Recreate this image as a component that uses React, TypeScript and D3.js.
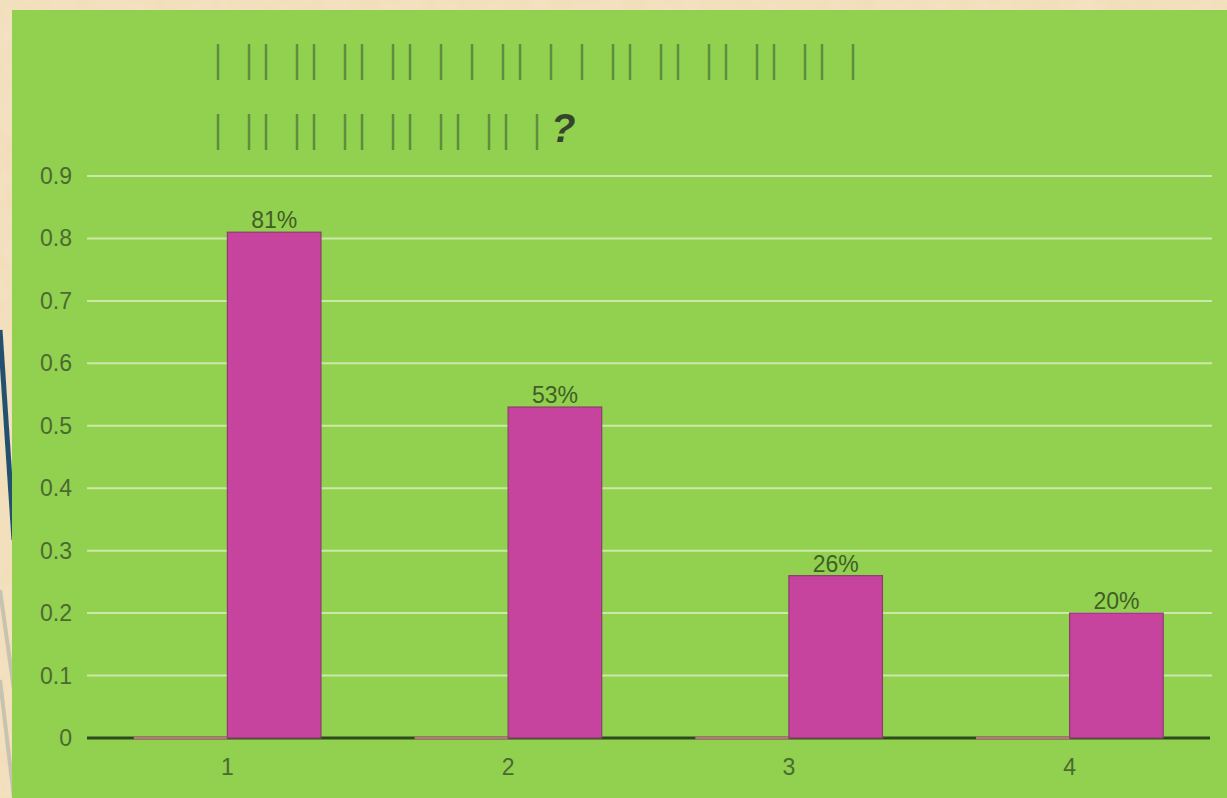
import React from "react";
import * as d3 from "d3";

const categories = ["1", "2", "3", "4"];
const seriesNames = ["Series1", "Series2"];
const series1Values = [0, 0, 0, 0];
const series2Values = [0.81, 0.53, 0.26, 0.2];
const yTicks = [0, 0.1, 0.2, 0.3, 0.4, 0.5, 0.6, 0.7, 0.8, 0.9];
const titleLine1 = "| || || || || | | || | | || || || || || |";
const titleLine2 = "| || || || || || || |?";

const W = 1227;
const H = 798;
const FONT = "'Liberation Sans', Arial, sans-serif";

function TitleLine({ text, x0, y }: { text: string; x0: number; y: number }) {
  let x = x0;
  const items: React.ReactNode[] = [];
  text.split("").forEach((ch, i) => {
    if (ch === "|") {
      items.push(
        <text key={i} x={x} y={y} fontSize={38} fontFamily={FONT} fill="#5a8e3c" textAnchor="middle" transform={`translate(${x},0) scale(0.75,1) translate(${-x},0)`}>
          |
        </text>
      );
      x += 17;
    } else if (ch === " ") {
      x += 14;
    } else {
      items.push(
        <text key={i} x={x - 3} y={y} fontSize={40} fontFamily={FONT} fill="#34452b" fontStyle="italic" fontWeight={600}>
          {ch}
        </text>
      );
      x += 20;
    }
  });
  return <g>{items}</g>;
}

export default function App() {
  const left = 87;
  const right = 1210;
  const top = 176;
  const bottom = 738;

  const x0 = d3.scaleBand<string>().domain(categories).range([left, right]).padding(0);
  const bw = x0.bandwidth();
  const x1 = d3.scaleBand<string>().domain(seriesNames).range([bw / 6, (bw * 5) / 6]).padding(0);
  const y = d3.scaleLinear().domain([0, 0.9]).range([bottom, top]);
  const fmt = d3.format(".0%");

  const bar = (bx: number, v: number, stroke: string, sw: number, key: string) => {
    const h = y(0) - y(v);
    if (h < 0.5) {
      return (
        <line key={key} x1={bx} x2={bx + x1.bandwidth()} y1={y(0)} y2={y(0)} stroke={stroke} strokeWidth={3} />
      );
    }
    return (
      <rect key={key} x={bx} y={y(v)} width={x1.bandwidth()} height={h} fill="#c6449e" stroke={stroke} strokeWidth={sw} />
    );
  };

  return (
    <svg width={W} height={H} style={{ position: "absolute", left: 0, top: 0 }}>
      <defs>
        <filter id="paper">
          <feTurbulence type="fractalNoise" baseFrequency="0.04" numOctaves={3} seed={3} />
          <feColorMatrix type="matrix" values="0 0 0 0 0.93  0 0 0 0 0.85  0 0 0 0 0.72  0 0 0 0.35 0" />
        </filter>
      </defs>
      <rect x={0} y={0} width={W} height={H} fill="#f1dcb6" />
      <rect x={0} y={0} width={W} height={H} filter="url(#paper)" />
      <path d="M0,330 L14,540" stroke="#22506e" strokeWidth={5} fill="none" />
      <path d="M0,590 L14,690" stroke="#c8c2b0" strokeWidth={4} fill="none" />
      <path d="M0,680 L14,798" stroke="#c8c2b0" strokeWidth={4} fill="none" />
      <rect x={12} y={10} width={W - 12} height={H - 10} fill="#92d050" />

      <TitleLine text={titleLine1} x0={218} y={72} />
      <TitleLine text={titleLine2} x0={218} y={142} />

      {yTicks.map((t) => (
        <g key={t}>
          {t > 0 && (
            <line x1={left} x2={right + 2} y1={y(t)} y2={y(t)} stroke="#cbe9a6" strokeWidth={2} />
          )}
          <text x={72} y={y(t) + 8} fontSize={23} fontFamily={FONT} fill="#4a6b30" textAnchor="end">
            {String(t)}
          </text>
        </g>
      ))}

      <line x1={left} x2={right} y1={bottom} y2={bottom} stroke="#2c4a1c" strokeWidth={3} />

      {categories.map((c, i) => {
        const bx = x0(c)!;
        const v2 = series2Values[i];
        return (
          <g key={c}>
            {bar(bx + x1("Series1")!, series1Values[i], "#b07a78", 1.2, "s1")}
            {bar(bx + x1("Series2")!, v2, "#8b3d6e", 1.2, "s2")}
            <text
              x={bx + x1("Series2")! + x1.bandwidth() / 2}
              y={y(v2) - 4}
              fontSize={23}
              fontFamily={FONT}
              fill="#3f5f26"
              textAnchor="middle"
            >
              {fmt(v2)}
            </text>
            <text x={bx + bw / 2} y={775} fontSize={23} fontFamily={FONT} fill="#4a6b30" textAnchor="middle">
              {c}
            </text>
          </g>
        );
      })}
    </svg>
  );
}
